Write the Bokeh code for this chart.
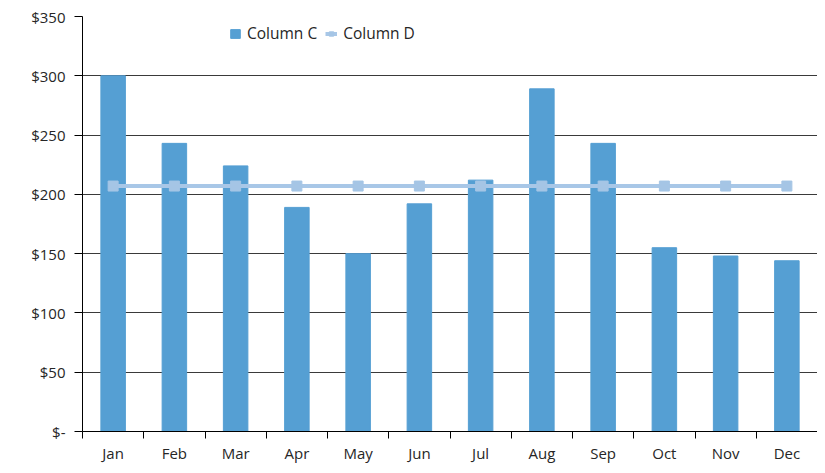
from bokeh.plotting import figure
from bokeh.models import Range1d, FixedTicker, ColumnDataSource
from bokeh.embed import file_html
from bokeh.resources import INLINE

months = ["Jan", "Feb", "Mar", "Apr", "May", "Jun", "Jul", "Aug", "Sep", "Oct", "Nov", "Dec"]
column_c = [300, 243, 224, 189, 150, 192, 212, 289, 243, 155, 148, 144]
column_d = [207, 207, 207, 207, 207, 207, 207, 207, 207, 207, 207, 207]
y_ticks = [0, 50, 100, 150, 200, 250, 300, 350]
y_tick_labels = ["$-", "$50", "$100", "$150", "$200", "$250", "$300", "$350"]

xs = [i + 0.5 for i in range(len(months))]
src = ColumnDataSource(dict(x=xs, c=column_c, d=column_d, m=months))

FONT = "Open Sans"
TXT = "#262626"

p = figure(width=817, height=465, output_backend="svg", toolbar_location=None,
           x_range=Range1d(0, len(months)), y_range=Range1d(0, 350),
           min_border_left=82, min_border_right=0, min_border_top=16, min_border_bottom=20)
p.outline_line_color = None
p.background_fill_color = "white"
p.border_fill_color = "white"

p.vbar(x="x", top="c", width=0.4, source=src, color="#559FD3", legend_label="Column C")
p.line(x="x", y="d", source=src, line_color="#A8C7E7", line_width=4, legend_label="Column D")
p.scatter(x="x", y="d", source=src, marker="square", size=10, color="#A5C5E5", legend_label="Column D")

# y axis
p.yaxis.ticker = FixedTicker(ticks=y_ticks, minor_ticks=[])
p.yaxis.major_label_overrides = {t: l for t, l in zip(y_ticks, y_tick_labels)}
p.yaxis.major_tick_out = 8
p.yaxis.major_tick_in = 0
p.yaxis.minor_tick_out = 0
p.yaxis.minor_tick_in = 0
p.yaxis.axis_line_color = "black"
p.yaxis.major_tick_line_color = "black"
p.yaxis.major_label_standoff = 9
p.yaxis.major_label_text_font = FONT
p.yaxis.major_label_text_font_size = "15px"
p.yaxis.major_label_text_color = TXT

# x axis
p.xaxis.ticker = FixedTicker(ticks=xs, minor_ticks=list(range(len(months) + 1)))
p.xaxis.major_label_overrides = {x: m for x, m in zip(xs, months)}
p.xaxis.major_tick_out = 0
p.xaxis.major_tick_in = 0
p.xaxis.minor_tick_out = 7
p.xaxis.minor_tick_in = 0
p.xaxis.minor_tick_line_color = "black"
p.xaxis.axis_line_color = "black"
p.xaxis.major_label_standoff = 4
p.xaxis.major_label_text_font = FONT
p.xaxis.major_label_text_font_size = "15px"
p.xaxis.major_label_text_color = TXT

p.xgrid.grid_line_color = None
p.ygrid.ticker = FixedTicker(ticks=y_ticks)
p.ygrid.grid_line_color = "#3a3a3a"
p.ygrid.grid_line_width = 1

lg = p.legend[0]
lg.orientation = "horizontal"
lg.location = (147, 387)
lg.border_line_color = None
lg.background_fill_alpha = 0
lg.label_text_font = FONT
lg.label_text_font_size = "15.5px"
lg.label_text_color = TXT
lg.glyph_width = 12
lg.glyph_height = 11
lg.label_standoff = 6
lg.spacing = 8
lg.padding = 2
lg.margin = 0

open("out.html", "w").write(file_html(p, INLINE))
